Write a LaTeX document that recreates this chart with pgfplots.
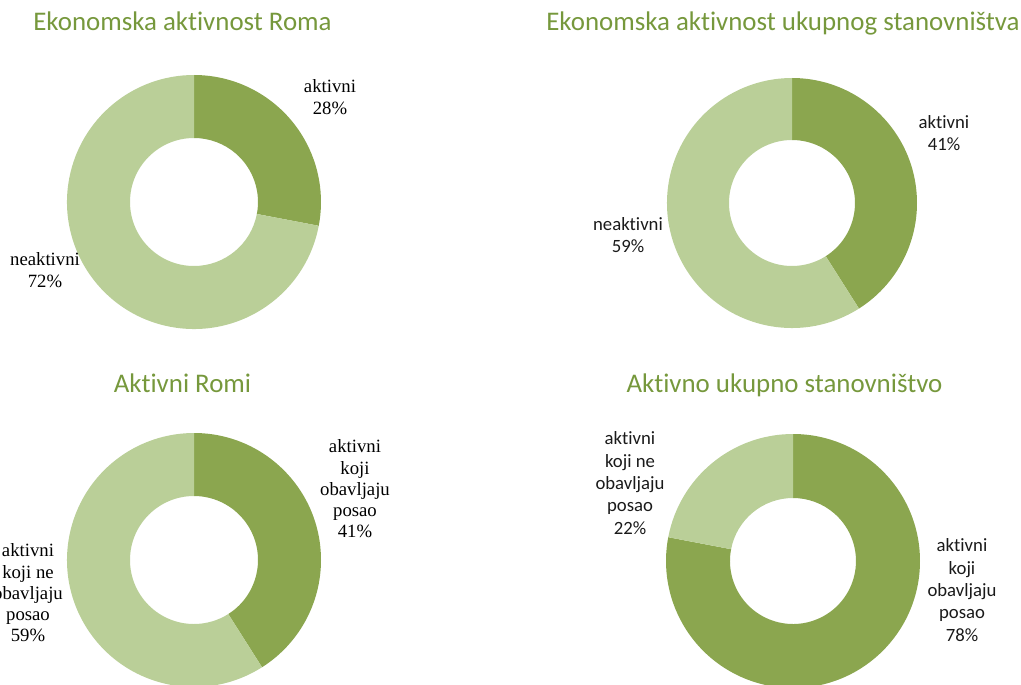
\documentclass[border=0pt]{standalone}
\usepackage{pgfplots}
\pgfplotsset{compat=1.18}
\usepackage{fontspec}
\setmainfont{Liberation Serif}
\newfontfamily\carl[Ligatures={NoCommon}]{Carlito}
\definecolor{dk}{HTML}{8BA64F}
\definecolor{lt}{HTML}{BACF98}
\definecolor{tg}{HTML}{76983C}
\definecolor{lbl}{HTML}{1A1A1A}
% annular segment: cx, cy, R, r, start angle, end angle, colour
\newcommand\seg[7]{\fill[#7, shift={(axis cs:#1,#2)}] (#5:#3bp) arc[start angle=#5, end angle=#6, radius=#3bp] -- (#6:#4bp) arc[start angle=#6, end angle=#5, radius=#4bp] -- cycle;}
\begin{document}
\begin{tikzpicture}
% shares of the dark ("aktivni") slice, percent
\pgfmathsetmacro\aA{90-28*3.6}
\pgfmathsetmacro\aB{90-41*3.6}
\pgfmathsetmacro\aC{90-41*3.6}
\pgfmathsetmacro\aD{90-78*3.6}
\begin{axis}[at={(0,0)}, anchor=south west, scale only axis,
  width=1021bp, height=685bp, xmin=0, xmax=1021, ymin=0, ymax=685,
  y dir=reverse, hide axis, clip=false]
% chart 1
\seg{194}{202}{127}{64}{90}{\aA}{dk}
\seg{194}{202}{127}{64}{\aA}{-270}{lt}
% chart 2
\seg{792}{203}{125}{63}{90}{\aB}{dk}
\seg{792}{203}{125}{63}{\aB}{-270}{lt}
% chart 3
\seg{194}{560}{127}{64}{90}{\aC}{dk}
\seg{194}{560}{127}{64}{\aC}{-270}{lt}
% chart 4
\seg{793}{561}{127}{63}{90}{\aD}{dk}
\seg{793}{561}{127}{63}{\aD}{-270}{lt}
% titles
\node[anchor=base, text=tg, font=\carl\fontsize{27}{32}\selectfont] at (axis cs:182.5,31) {Ekonomska aktivnost Roma};
\node[anchor=base, text=tg, font=\carl\fontsize{27}{32}\selectfont] at (axis cs:783,31) {Ekonomska aktivnost ukupnog stanovništva};
\node[anchor=base, text=tg, font=\carl\fontsize{27}{32}\selectfont] at (axis cs:182.5,392) {Aktivni Romi};
\node[anchor=base, text=tg, font=\carl\fontsize{27}{32}\selectfont] at (axis cs:784.5,392) {Aktivno ukupno stanovništvo};
% labels
\node[align=center, text=black, font=\fontsize{18.8}{21.5}\selectfont] at (axis cs:330,97) {aktivni\\28\%};
\node[align=center, text=black, font=\fontsize{18.8}{21.5}\selectfont] at (axis cs:45,270) {neaktivni\\72\%};
\node[align=center, text=lbl, font=\carl\fontsize{18.8}{22.5}\selectfont] at (axis cs:944,133) {aktivni\\41\%};
\node[align=center, text=lbl, font=\carl\fontsize{18.8}{22.5}\selectfont] at (axis cs:628,235) {neaktivni\\59\%};
\node[align=center, text=black, font=\fontsize{18.8}{21.3}\selectfont] at (axis cs:355,489) {aktivni\\koji\\obavljaju\\posao\\41\%};
\node[align=center, text=black, font=\fontsize{18.8}{21.3}\selectfont] at (axis cs:28,593) {aktivni\\koji ne\\obavljaju\\posao\\59\%};
\node[align=center, text=lbl, font=\carl\fontsize{18.8}{22.5}\selectfont] at (axis cs:630,483) {aktivni\\koji ne\\obavljaju\\posao\\22\%};
\node[align=center, text=lbl, font=\carl\fontsize{18.8}{22.5}\selectfont] at (axis cs:962,590) {aktivni\\koji\\obavljaju\\posao\\78\%};
\end{axis}
\pgfresetboundingbox
\useasboundingbox (0,0) rectangle (1021bp,685bp);
\end{tikzpicture}
\end{document}
